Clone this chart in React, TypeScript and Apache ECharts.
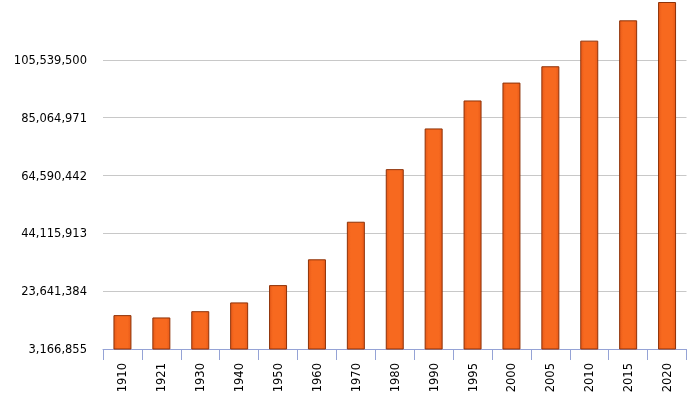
import React, { useEffect, useRef } from "react";
import * as echarts from "echarts";

const years = ["1910", "1921", "1930", "1940", "1950", "1960", "1970", "1980", "1990", "1995", "2000", "2005", "2010", "2015", "2020"];
const population = [15160369, 14334780, 16552722, 19653552, 25791017, 34923129, 48225238, 66846833, 81249645, 91158290, 97483412, 103263388, 112336538, 119530753, 126014024];
const axisMin = 3166855;
const axisInterval = 20474529;
const axisMax = axisMin + axisInterval * 6;

export default function App() {
  const ref = useRef<HTMLDivElement>(null);
  useEffect(() => {
    if (!ref.current) return;
    const chart = echarts.init(ref.current, null, { renderer: "svg" });
    const font = "DejaVu Sans, Verdana, sans-serif";
    chart.setOption({
      animation: false,
      grid: { left: 103, right: 0.5, top: 2, bottom: 47, containLabel: false },
      xAxis: {
        type: "category",
        data: years,
        boundaryGap: true,
        axisLine: { show: true, lineStyle: { color: "#95a3d6", width: 1 } },
        axisTick: { show: true, length: 11, lineStyle: { color: "#95a3d6" } },
        axisLabel: { rotate: 90, margin: 14, color: "#000", fontSize: 11.5, fontFamily: font, interval: 0 },
        splitLine: { show: false },
      },
      yAxis: {
        type: "value",
        min: axisMin,
        max: axisMax,
        interval: axisInterval,
        axisLine: { show: false },
        axisTick: { show: false },
        axisLabel: {
          margin: 16,
          color: "#000",
          fontSize: 11.5,
          fontFamily: font,
          showMaxLabel: false,
          formatter: (v: number) => Math.round(v).toLocaleString("en-US"),
        },
        splitLine: {
          show: true,
          lineStyle: { color: ["#c8c8c8", "#c8c8c8", "#c8c8c8", "#c8c8c8", "#c8c8c8", "#c8c8c8", "rgba(0,0,0,0)"], width: 1 },
        },
      },
      series: [
        {
          type: "bar",
          data: population,
          barWidth: 18,
          itemStyle: {
            color: new echarts.graphic.LinearGradient(0, 0, 1, 0, [
              { offset: 0, color: "#e85a18" },
              { offset: 0.2, color: "#f7691f" },
              { offset: 0.8, color: "#f7691f" },
              { offset: 1, color: "#e85a18" },
            ]),
            borderColor: "#8e3208",
            borderWidth: 1,
          },
        },
      ],
    });
    return () => chart.dispose();
  }, []);
  return <div ref={ref} style={{ position: "fixed", left: 0, top: 0, width: 687, height: 396 }} />;
}
